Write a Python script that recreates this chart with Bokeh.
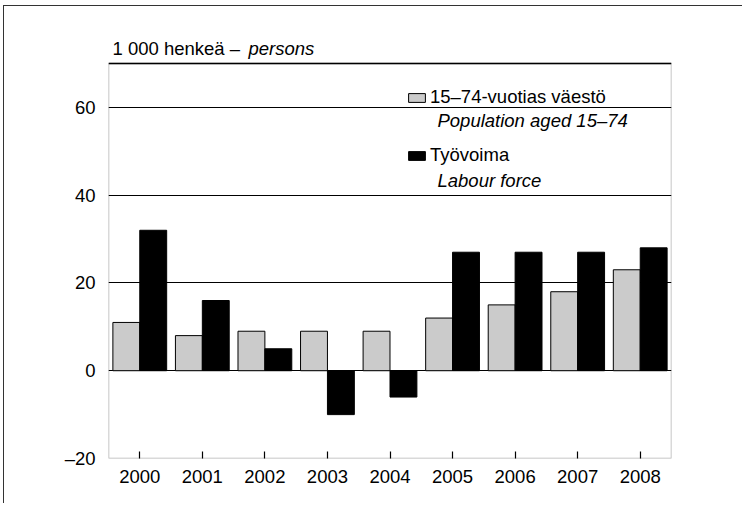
from bokeh.plotting import figure
from bokeh.models import (ColumnDataSource, FactorRange, Range1d, Legend, LegendItem,
                          Label, FixedTicker, BoxAnnotation, Span)
from bokeh.transform import dodge
from bokeh.embed import file_html
from bokeh.resources import INLINE

# ---- data ----
years = ["2000", "2001", "2002", "2003", "2004", "2005", "2006", "2007", "2008"]
population_15_74 = [11, 8, 9, 9, 9, 12, 15, 18, 23]
labour_force = [32, 16, 5, -10, -6, 27, 27, 27, 28]
y_ticks = [-20, 0, 20, 40, 60]
y_min, y_max = -20, 70
unit_text = "1 000 henkeä – "
unit_text_en = "persons"
legend_fi = ["15–74-vuotias väestö", "Työvoima"]
legend_en = ["Population aged 15–74", "Labour force"]

FONT = "Liberation Sans"
FS = "18.5px"

source = ColumnDataSource(dict(year=years, pop=population_15_74, lab=labour_force))

# plot area extends a little above y_max so the unit line (inside) is never clipped;
# the visible chart frame is drawn as a box from y_min to y_max
p = figure(width=739, height=498, output_backend="svg", toolbar_location=None,
           x_range=FactorRange(*years, range_padding=0), y_range=Range1d(y_min, 76.38),
           min_border_left=104, min_border_right=72, min_border_top=29, min_border_bottom=46,
           background_fill_color="white", border_fill_color="white",
           styles={"margin-left": "3px", "margin-top": "5px",
                   "border-left": "1px solid #333", "border-top": "1px solid #333"})
p.outline_line_color = None

r_pop = p.vbar(x=dodge("year", -0.215, range=p.x_range), top="pop", bottom=0, width=0.43,
               source=source, fill_color="#cbcbcb", line_color="black", line_width=1)
r_lab = p.vbar(x=dodge("year", 0.215, range=p.x_range), top="lab", bottom=0, width=0.43,
               source=source, fill_color="black", line_color="black", line_width=1)

# grids
p.xgrid.grid_line_color = None
p.ygrid.ticker = FixedTicker(ticks=y_ticks)
p.ygrid.grid_line_color = "black"
p.ygrid.grid_line_width = 1.2

# chart frame
p.add_layout(BoxAnnotation(left=0, right=len(years), bottom=y_min, top=y_max,
                           fill_alpha=0, line_color="black", line_width=1.5))
p.add_layout(Span(location=y_max, dimension="width", line_color="black", line_width=1.5))

# axes
p.yaxis.ticker = FixedTicker(ticks=y_ticks)
p.yaxis.major_label_overrides = {-20: "–20"}
p.yaxis.major_tick_in = 0
p.yaxis.major_tick_out = 0
p.yaxis.minor_tick_line_color = None
p.yaxis.axis_line_color = None
p.yaxis.major_label_standoff = 13
p.xaxis.major_tick_in = 7
p.xaxis.major_tick_out = 0
p.xaxis.major_tick_line_color = "black"
p.xaxis.major_tick_line_width = 1.2
p.xaxis.axis_line_color = None
p.xaxis.major_label_standoff = 11
for ax in (p.xaxis, p.yaxis):
    ax.major_label_text_font = FONT
    ax.major_label_text_font_size = FS
    ax.major_label_text_color = "black"

# unit label (title line)
p.add_layout(Label(x=0.064, y=73.35, text=unit_text, text_font=FONT, text_font_size=FS,
                   text_color="black", text_baseline="alphabetic"))
p.add_layout(Label(x=2.238, y=73.35, text=unit_text_en, text_font=FONT, text_font_size=FS,
                   text_font_style="italic", text_color="black", text_baseline="alphabetic"))

# legends
def make_legend(label, renderer, loc):
    lg = Legend(items=[LegendItem(label=label, renderers=[renderer])], location=loc,
                glyph_width=21, glyph_height=11, label_standoff=3, padding=0, margin=0,
                spacing=0, border_line_color=None, background_fill_alpha=0,
                label_text_font=FONT, label_text_font_size=FS, label_text_color="black")
    p.add_layout(lg)

make_legend(legend_fi[0], r_pop, (298, 350))
make_legend(legend_fi[1], r_lab, (298, 292))

p.add_layout(Label(x=5.259, y=57.0, text=legend_en[0], text_font=FONT, text_font_size=FS,
                   text_font_style="italic", text_color="black", text_baseline="middle"))
p.add_layout(Label(x=5.259, y=43.3, text=legend_en[1], text_font=FONT, text_font_size=FS,
                   text_font_style="italic", text_color="black", text_baseline="middle"))

open("out.html", "w").write(file_html(p, INLINE))
